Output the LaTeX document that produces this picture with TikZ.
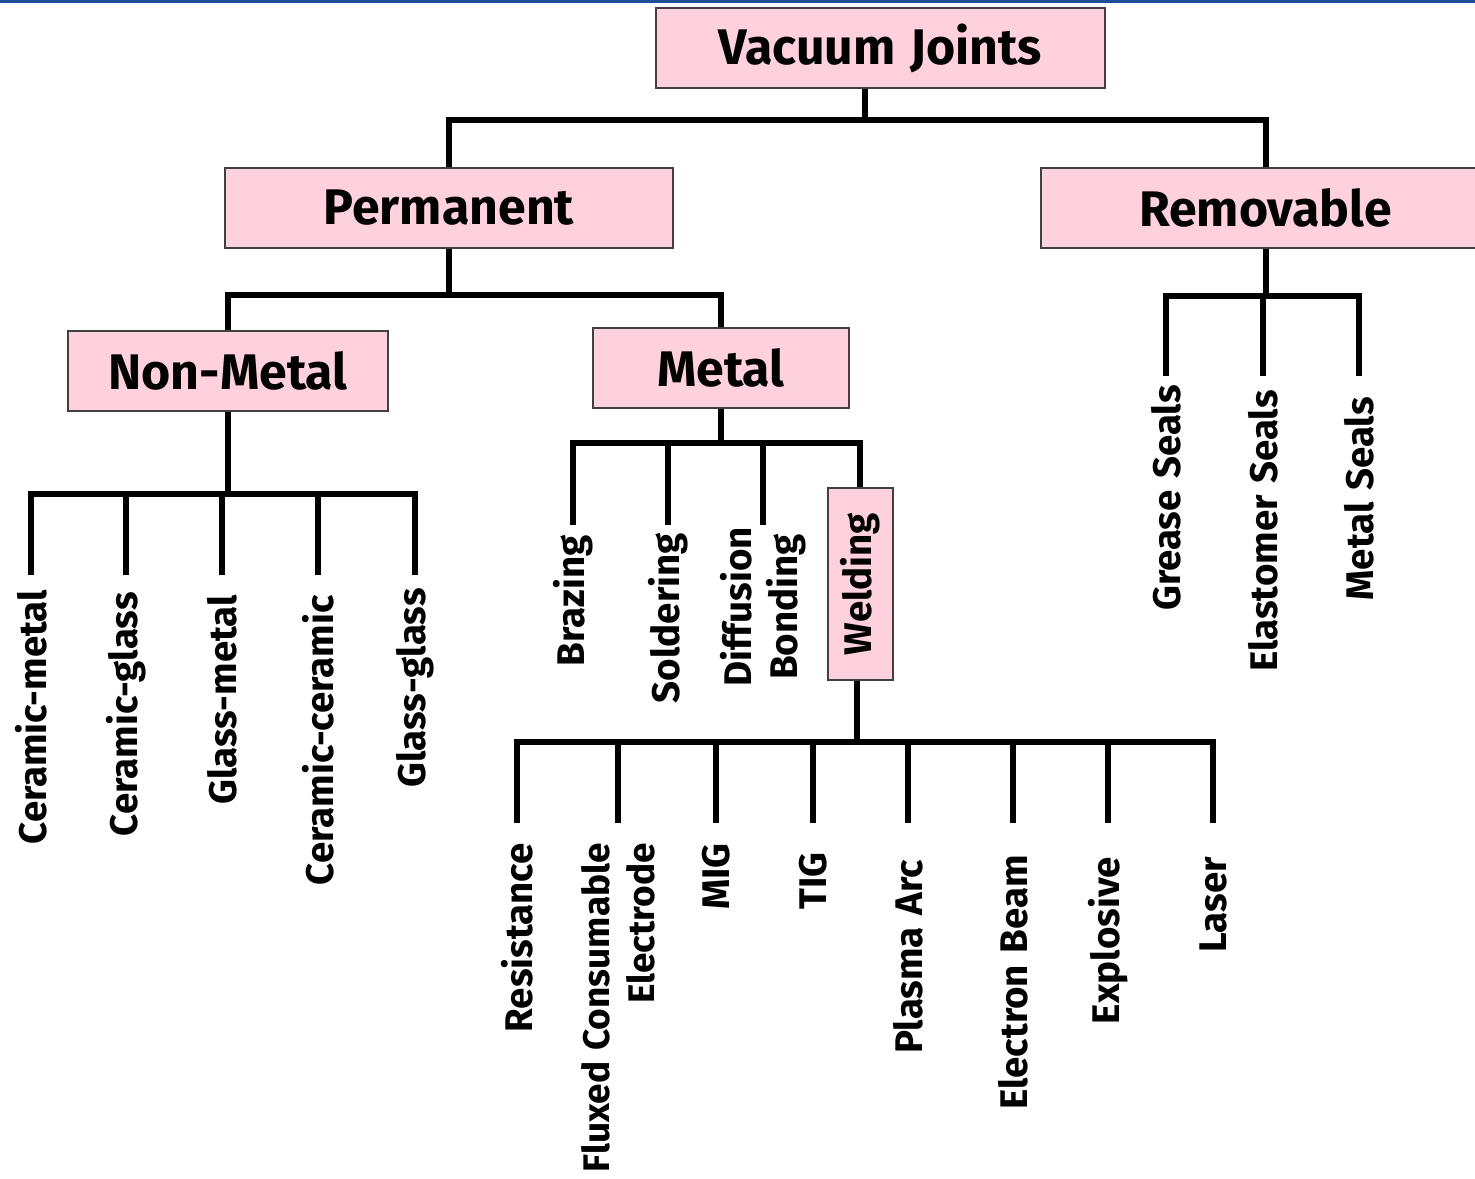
\documentclass[tikz,border=0pt]{standalone}
\usepackage{fontspec}
\setmainfont[WordSpace=1.25]{Fira Sans}
\usetikzlibrary{backgrounds}
\definecolor{boxpink}{RGB}{255,209,220}
\definecolor{topblue}{RGB}{32,78,150}
\begin{document}
\begin{tikzpicture}[x=1pt,y=-1pt,
  conn/.style={line width=6pt, line cap=rect, line join=miter},
  catbox/.style={draw=black!75, line width=2pt, fill=boxpink, rectangle, inner sep=0pt,
     font=\fontsize{50}{60}\selectfont\bfseries},
  leaffont/.style={font=\fontsize{38.5}{46}\selectfont\bfseries},
  leaf/.style={leaffont, rotate=90, anchor=east, inner sep=0pt},
]
\useasboundingbox (0,0) rectangle (1475,1178);
\fill[topblue] (0,0) rectangle (1475,3);

% category boxes
\node[catbox, minimum width=449pt, minimum height=80pt] (vj) at (880.5,48) {Vacuum Joints};
\node[catbox, minimum width=448pt, minimum height=80pt] (perm) at (449,208) {Permanent};
\node[catbox, minimum width=449pt, minimum height=80pt] (rem) at (1265.5,208) {Removable};
\node[catbox, minimum width=320pt, minimum height=80pt] (nm) at (228,371) {Non-Metal};
\node[catbox, minimum width=256pt, minimum height=80pt] (met) at (721,368) {Metal};
\node[catbox, leaffont, rotate=90, minimum width=192pt, minimum height=65pt] (weld) at (860,584) {Welding};

% non-metal leaves
\node[leaf] (cm) at (31,590) {Ceramic-metal};
\node[leaf] (cg) at (126,592) {Ceramic-glass};
\node[leaf] (gm) at (222,595) {Glass-metal};
\node[leaf] (cc) at (318,595) {Ceramic-ceramic};
\node[leaf] (gg) at (415,588) {Glass-glass};

% metal leaves
\node[leaf] (bz) at (573,535) {Brazing};
\node[leaf] (sd) at (668,533) {Soldering};
\node[leaf, align=center] (db) at (763,527) {Diffusion\\Bonding};

% welding leaves
\node[leaf] (rs) at (517,843) {Resistance};
\node[leaf, align=right, font=\fontsize{37}{45}\selectfont\bfseries] (fc) at (618,843) {Fluxed Consumable\\Electrode};
\node[leaf] (mig) at (716,843) {MIG};
\node[leaf] (tig) at (813,852) {TIG};
\node[leaf] (pa) at (908,860) {Plasma Arc};
\node[leaf] (eb) at (1013,855) {Electron Beam};
\node[leaf] (ex) at (1108,857) {Explosive};
\node[leaf] (la) at (1213,857) {Laser};

% removable leaves
\node[leaf] (gs) at (1166,385) {Grease Seals};
\node[leaf] (es) at (1263,390) {Elastomer Seals};
\node[leaf] (ms) at (1359,397) {Metal Seals};

\begin{scope}[on background layer]
  \coordinate (b0) at (865,120);
  \draw[conn] (vj.south -| b0) -- (b0);
  \draw[conn] (perm.north) |- (b0) -| (rem.north);

  \coordinate (b1) at (449,295);
  \draw[conn] (perm.south) -- (b1);
  \draw[conn] (nm.north) |- (b1) -| (met.north);

  \coordinate (b2) at (228,494);
  \draw[conn] (nm.south) -- (b2);
  \draw[conn] (cm.east |- b2) -- (gg.east |- b2);
  \foreach \n in {cm,cg,gm,cc,gg} \draw[conn] (\n.east |- b2) -- (\n.east |- 0,572);

  \coordinate (b3) at (721,443);
  \draw[conn] (met.south) -- (b3);
  \draw[conn] (bz.east |- b3) -| (weld.east);
  \foreach \n in {bz,sd,db} \draw[conn] (\n.east |- b3) -- (\n.east |- 0,522);

  \coordinate (b4) at (857,742);
  \draw[conn] (weld.west -| b4) -- (b4);
  \draw[conn] (rs.east |- b4) -- (la.east |- b4);
  \foreach \n in {rs,fc,mig,tig,pa,eb,ex,la} \draw[conn] (\n.east |- b4) -- (\n.east |- 0,820);

  \coordinate (b5) at (1265.5,296);
  \draw[conn] (rem.south) -- (b5);
  \draw[conn] (gs.east |- b5) -- (ms.east |- b5);
  \foreach \n in {gs,es,ms} \draw[conn] (\n.east |- b5) -- (\n.east |- 0,373);
\end{scope}
\end{tikzpicture}
\end{document}
